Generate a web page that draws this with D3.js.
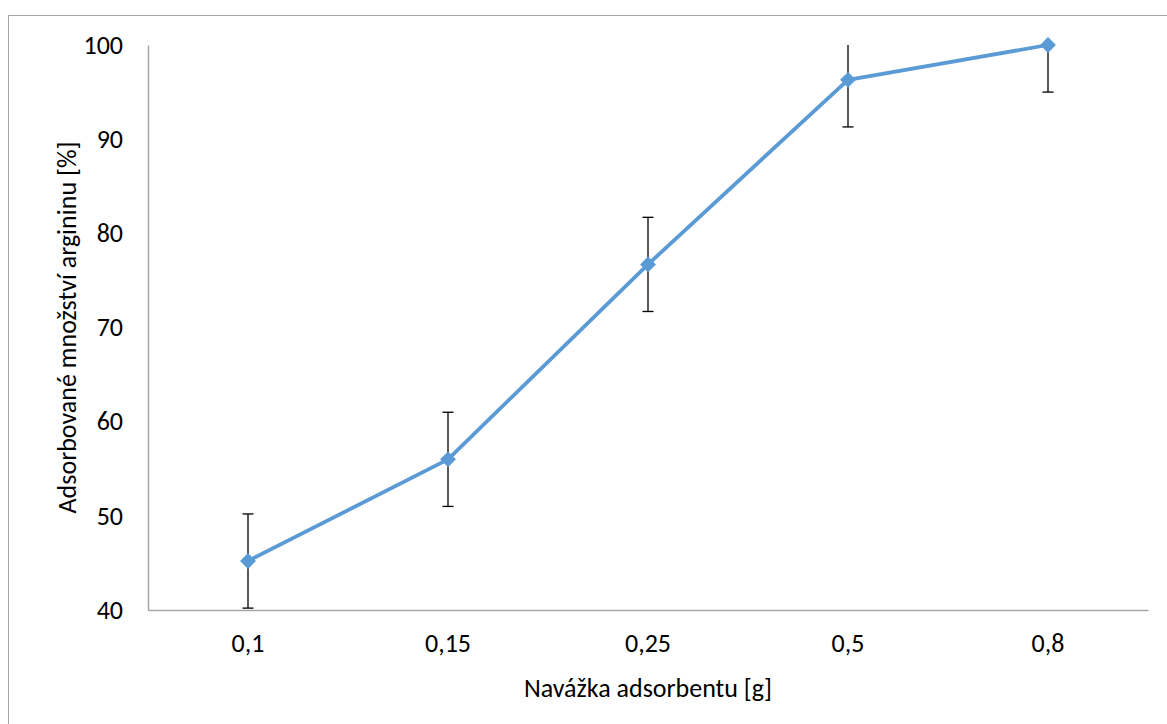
<!DOCTYPE html>
<html><head><meta charset="utf-8">
<script src="https://cdn.jsdelivr.net/npm/d3@7"></script>
<style>body{margin:0;background:#fff;} text{font-family:Carlito,"Open Sans","Liberation Sans",sans-serif;}</style>
</head><body>
<svg id="c" width="1167" height="724"></svg>
<script>
const categories = ["0,1","0,15","0,25","0,5","0,8"];
const values = [45.2, 56.0, 76.7, 96.3, 100.0];
const errors = [5, 5, 5, 5, 5];
const yTicks = [40,50,60,70,80,90,100];
const xTitle = "Navážka adsorbentu [g]";
const yTitle = "Adsorbované množství argininu [%]";

const svg = d3.select("#c");
const m = {l:148, r:1148, t:45, b:610};
const FS = 26;
svg.append("rect").attr("x",8.5).attr("y",15.5).attr("width",1170).attr("height",720)
  .attr("fill","none").attr("stroke","#a6a6a6").attr("stroke-width",1);

const x = d3.scaleBand().domain(categories).range([m.l,m.r]);
const y = d3.scaleLinear().domain([40,100]).range([m.b,m.t]);

const xAxis = svg.append("g").attr("transform",`translate(0,${m.b})`)
  .call(d3.axisBottom(x).tickSize(0).tickPadding(24));
xAxis.attr("font-size",FS).attr("font-family",null);
xAxis.select(".domain").attr("stroke","#a6a6a6").attr("stroke-width",1.5);
xAxis.selectAll("text").style("font-size",FS+"px").attr("fill","#000");

const yAxis = svg.append("g").attr("transform",`translate(${m.l},0)`)
  .call(d3.axisLeft(y).tickValues(yTicks).tickSize(0).tickPadding(25));
yAxis.attr("font-size",FS).attr("font-family",null);
yAxis.select(".domain").attr("stroke","#a6a6a6").attr("stroke-width",1.5);
yAxis.selectAll("text").style("font-size",FS+"px").attr("fill","#000");

const cx = d => x(d) + x.bandwidth()/2;
const clampY = v => y(Math.max(40, Math.min(100, v)));

// error bars
const eb = svg.append("g").attr("stroke","#000").attr("stroke-width",1.3);
categories.forEach((c,i)=>{
  const hi = values[i]+errors[i], lo = values[i]-errors[i];
  eb.append("line").attr("x1",cx(c)).attr("x2",cx(c)).attr("y1",clampY(hi)).attr("y2",clampY(lo));
  if (hi <= 100) eb.append("line").attr("x1",cx(c)-5.5).attr("x2",cx(c)+5.5).attr("y1",y(hi)).attr("y2",y(hi));
  if (lo >= 40) eb.append("line").attr("x1",cx(c)-5.5).attr("x2",cx(c)+5.5).attr("y1",y(lo)).attr("y2",y(lo));
});

const line = d3.line().x((d,i)=>cx(categories[i])).y(d=>y(d));
svg.append("path").datum(values).attr("d",line).attr("fill","none")
  .attr("stroke","#5b9bd5").attr("stroke-width",3.8).attr("stroke-linejoin","round");

svg.append("g").selectAll("path").data(values).join("path")
  .attr("d", d3.symbol().type(d3.symbolDiamond2).size(160))
  .attr("transform",(d,i)=>`translate(${cx(categories[i])},${y(d)})`)
  .attr("fill","#5b9bd5");

svg.append("text").attr("x",(m.l+m.r)/2).attr("y",697).attr("text-anchor","middle")
  .style("font-size",FS+"px").text(xTitle);
svg.append("text").attr("transform",`translate(76,${(m.t+m.b)/2}) rotate(-90)`)
  .attr("text-anchor","middle").style("font-size",FS+"px").text(yTitle);
</script>
</body></html>
